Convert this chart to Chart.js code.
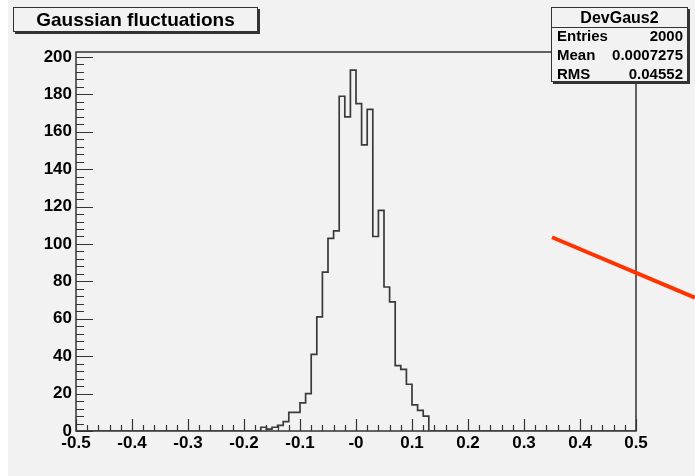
<!DOCTYPE html>
<html>
<head>
<meta charset="utf-8">
<script src="https://cdn.jsdelivr.net/npm/chart.js@4.4.1/dist/chart.umd.min.js"></script>
<style>
    body { margin: 0; background: #ffffff; }
    #wrap { position: relative; width: 695px; height: 476px; }
    #bg { position: absolute; left: 8px; top: 0; width: 687px; height: 476px; background: #f2f2f2; }
    canvas { position: absolute; left: 0; top: 0; }
    .box {
        position: absolute;
        background: #f2f2f2;
        border: 1px solid #333;
        box-shadow: 2px 2px 0 #333;
        font-family: 'Liberation Sans', Arial, sans-serif;
        font-weight: bold;
        color: #000;
    }
    #title { left: 13px; top: 7px; width: 243px; height: 23px; font-size: 19px; line-height: 23px; text-align: center; }
    #stats { left: 551px; top: 7px; width: 135px; height: 73px; font-size: 15px; }
    #stats .head { position: absolute; left: 0; top: 0; width: 100%; height: 19px; line-height: 19px; font-size: 16px; text-align: center; border-bottom: 1px solid #333; }
    #stats .row { position: absolute; left: 5px; right: 4px; height: 18px; line-height: 18px; }
    #stats .row span:last-child { float: right; }
</style>
</head>
<body>
<div id="wrap">
    <div id="bg"></div>
    <canvas id="chart" width="695" height="476"></canvas>
    <div id="title" class="box">Gaussian fluctuations</div>
    <div id="stats" class="box">
        <div class="head">DevGaus2</div>
        <div class="row" style="top:19px"><span>Entries</span><span>2000</span></div>
        <div class="row" style="top:38px"><span>Mean</span><span>0.0007275</span></div>
        <div class="row" style="top:57px"><span>RMS</span><span>0.04552</span></div>
    </div>
</div>
<script>
// Histogram data: 100 bins of 0.01 on [-0.5, 0.5], only the filled ones are listed
const xMin = -0.5;
const xMax = 0.5;
const binWidth = 0.01;
const firstBinLow = -0.17;
const counts = [2, 1, 2, 3, 5, 10, 10, 15, 20, 41,
                61, 85, 103, 107, 179, 168, 193, 175, 153, 172,
                104, 118, 77, 69, 35, 33, 25, 14, 11, 8];
const yMax = 202.65;

// red pointer line drawn over the plot (data units)
const arrowX = [0.35, 0.605];
const arrowY = [103.6, 71.3];

function round4(v) {
    return Number(v.toFixed(4));
}

// outline points for a stepped line (each point starts a bin)
const histPoints = [{x: xMin, y: 0}];
counts.forEach((c, i) => {
    histPoints.push({x: round4(firstBinLow + i * binWidth), y: c});
});
histPoints.push({x: round4(firstBinLow + counts.length * binWidth), y: 0});
histPoints.push({x: xMax, y: 0});

const arrowPoints = arrowX.map((x, i) => ({x: x, y: arrowY[i]}));

// frame + inward ticks, ROOT style
const framePlugin = {
    id: 'frame',
    beforeDatasetsDraw(chart) {
        const ctx = chart.ctx;
        const a = chart.chartArea;
        const xs = chart.scales.x;
        const ys = chart.scales.y;
        ctx.save();
        ctx.strokeStyle = '#333';
        ctx.lineWidth = 1.5;
        ctx.strokeRect(a.left, a.top, a.right - a.left, a.bottom - a.top);

        ctx.lineWidth = 1.2;
        ctx.beginPath();
        // x ticks: major 0.1, minor 0.02
        for (let i = 0; i <= 50; i++) {
            const px = Math.round(xs.getPixelForValue(xMin + i * 0.02)) + 0.5;
            const len = (i % 5 === 0) ? 12 : 6;
            ctx.moveTo(px, a.bottom);
            ctx.lineTo(px, a.bottom - len);
        }
        // y ticks: major 20, minor 4
        for (let v = 0; v <= 200; v += 4) {
            const py = Math.round(ys.getPixelForValue(v)) + 0.5;
            const len = (v % 20 === 0) ? 17 : 8;
            ctx.moveTo(a.left, py);
            ctx.lineTo(a.left + len, py);
        }
        ctx.stroke();
        ctx.restore();
    }
};

const tickFont = {family: "'Liberation Sans', Arial, sans-serif", size: 17, weight: 'bold'};

new Chart(document.getElementById('chart'), {
    type: 'line',
    data: {
        datasets: [{
            data: histPoints,
            stepped: 'before',
            borderColor: '#3a3a3a',
            borderWidth: 1.7,
            pointRadius: 0,
            fill: false
        }, {
            data: arrowPoints,
            borderColor: '#ff3300',
            borderWidth: 4,
            pointRadius: 0,
            fill: false,
            clip: false
        }]
    },
    options: {
        responsive: false,
        animation: false,
        layout: {
            padding: {left: 0, right: 59, top: 52, bottom: 0}
        },
        plugins: {
            legend: {display: false},
            tooltip: {enabled: false}
        },
        scales: {
            x: {
                type: 'linear',
                min: xMin,
                max: xMax,
                grid: {display: false, drawTicks: false},
                border: {display: false},
                ticks: {
                    stepSize: 0.1,
                    autoSkip: false,
                    maxRotation: 0,
                    padding: 2,
                    color: '#000',
                    font: tickFont,
                    callback: function(value) {
                        let s = Number(value).toFixed(1);
                        if (s === '0.0' || s === '-0.0') return '-0';
                        return s;
                    }
                },
                afterFit: function(scale) { scale.height = 45; }
            },
            y: {
                min: 0,
                max: yMax,
                grid: {display: false, drawTicks: false},
                border: {display: false},
                ticks: {
                    stepSize: 20,
                    includeBounds: false,
                    padding: 4,
                    color: '#000',
                    font: tickFont
                },
                afterFit: function(scale) { scale.width = 76; }
            }
        }
    },
    plugins: [framePlugin]
});
</script>
</body>
</html>
